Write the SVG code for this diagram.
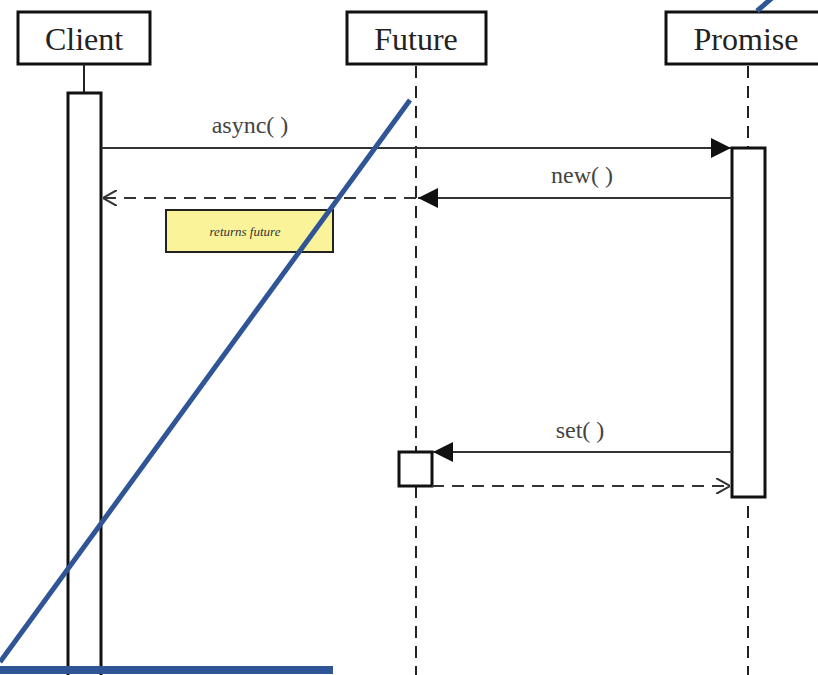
<svg xmlns="http://www.w3.org/2000/svg" width="818" height="675" viewBox="0 0 818 675">
<defs>
<style>
.box{fill:#fff;stroke:#111;stroke-width:3}
.act{fill:#fff;stroke:#111;stroke-width:3}
.title{font-family:"Liberation Serif","DejaVu Serif",serif;font-size:32px;fill:#222;text-anchor:middle}
.lbl{font-family:"Liberation Serif","DejaVu Serif",serif;font-size:24px;fill:#444;text-anchor:middle}
.life{stroke:#222;stroke-width:2;stroke-dasharray:12 8;fill:none}
.msg{stroke:#333;stroke-width:2.2;fill:none}
.ret{stroke:#333;stroke-width:2.2;stroke-dasharray:12 8;fill:none}
.blue{stroke:#2f5596;stroke-width:5;fill:none}
</style>
<marker id="filled" viewBox="0 0 20 20" refX="20" refY="10" markerWidth="20" markerHeight="20" markerUnits="userSpaceOnUse" orient="auto">
<path d="M0,0 L20,10 L0,20 Z" fill="#111"/>
</marker>
<marker id="open" viewBox="0 0 14 16" refX="14" refY="8" markerWidth="14" markerHeight="16" markerUnits="userSpaceOnUse" orient="auto">
<path d="M0,0 L14,8 L0,16" fill="none" stroke="#333" stroke-width="2"/>
</marker>
</defs>
<rect width="818" height="675" fill="#fff"/>

<g id="client">
<rect class="box" x="18" y="12" width="132" height="52"/>
<text class="title" x="84" y="50">Client</text>
<line x1="84" y1="64" x2="84" y2="92" stroke="#222" stroke-width="2"/>
<rect class="act" x="68" y="93" width="33" height="600"/>
</g>

<g id="future">
<rect class="box" x="347" y="12" width="139" height="52"/>
<text class="title" x="416" y="50">Future</text>
<line class="life" x1="416" y1="66" x2="416" y2="675"/>
<rect class="act" x="399" y="452" width="33" height="34"/>
</g>

<g id="promise">
<rect class="box" x="666" y="12" width="160" height="52"/>
<text class="title" x="746" y="50">Promise</text>
<line class="life" x1="748" y1="66" x2="748" y2="675"/>
<rect class="act" x="732" y="148" width="33" height="349"/>
</g>

<g id="note">
<rect x="166" y="210" width="167" height="42" fill="#fbf39a" stroke="#222" stroke-width="2"/>
<text x="245" y="236" font-family="'Liberation Serif','DejaVu Serif',serif" font-size="13" font-style="italic" fill="#333" text-anchor="middle">returns future</text>
</g>

<g id="connectors">
<line class="msg" x1="101" y1="148" x2="731" y2="148" marker-end="url(#filled)"/>
<text class="lbl" x="250" y="133">async( )</text>
<line class="msg" x1="732" y1="198" x2="418" y2="198" marker-end="url(#filled)"/>
<text class="lbl" x="582" y="183">new( )</text>
<line class="ret" x1="416" y1="198" x2="103" y2="198" marker-end="url(#open)"/>
<line class="msg" x1="732" y1="452" x2="433" y2="452" marker-end="url(#filled)"/>
<text class="lbl" x="580" y="438">set( )</text>
<line class="ret" x1="432" y1="486" x2="730" y2="486" marker-end="url(#open)"/>
</g>

<g id="overlay">
<line class="blue" x1="410" y1="100" x2="0" y2="662"/>
<line x1="0" y1="670" x2="333" y2="670" stroke="#2f5596" stroke-width="8"/>
<line class="blue" x1="757" y1="11" x2="772" y2="-2"/>
</g>
</svg>
